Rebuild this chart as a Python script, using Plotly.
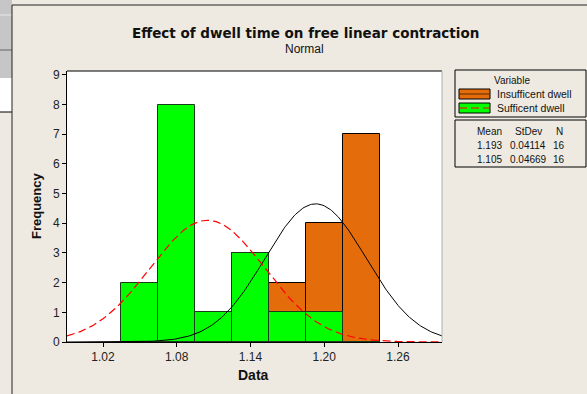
import numpy as np
import plotly.graph_objects as go

# ---- data ----
bin_centers = [1.05, 1.08, 1.11, 1.14, 1.17, 1.20, 1.23]
insufficient_counts = [0, 0, 0, 3, 2, 4, 7]
sufficient_counts = [2, 8, 1, 3, 1, 1, 0]
bin_width = 0.03
insufficient_mean, insufficient_sd, insufficient_n = 1.193, 0.04114, 16
sufficient_mean, sufficient_sd, sufficient_n = 1.105, 0.04669, 16
x_ticks = [1.02, 1.08, 1.14, 1.20, 1.26]
y_ticks = list(range(10))

W, H = 587, 394
L, R, T, B = 67, 442, 71, 342
BG = "#EEEAE1"
ORANGE = "#E46C0A"
GREEN = "#00FF00"
FONT = "Liberation Sans"


def px(x):
    return (x - L) / (R - L)


def py(y):
    return (B - y) / (B - T)


xr = [0.9907, 1.2958]
xs = np.linspace(xr[0], xr[1], 300)


def fit(mean, sd, n):
    return n * bin_width / (sd * np.sqrt(2 * np.pi)) * np.exp(-0.5 * ((xs - mean) / sd) ** 2)


fig = go.Figure()
fig.add_bar(x=bin_centers, y=insufficient_counts, width=bin_width,
            marker=dict(color=ORANGE, line=dict(color="black", width=1)),
            showlegend=False)
fig.add_bar(x=bin_centers, y=sufficient_counts, width=bin_width,
            marker=dict(color=GREEN, line=dict(color="#1a3a1a", width=1)),
            showlegend=False)
fig.add_scatter(x=xs, y=fit(insufficient_mean, insufficient_sd, insufficient_n),
                mode="lines", line=dict(color="black", width=1), showlegend=False)
fig.add_scatter(x=xs, y=fit(sufficient_mean, sufficient_sd, sufficient_n),
                mode="lines", line=dict(color="red", width=1.2, dash="8px,4px"),
                showlegend=False)

shapes = []
# plot frame top & right
shapes.append(dict(type="line", xref="paper", yref="paper", x0=0, x1=1, y0=1, y1=1,
                   line=dict(color="black", width=1)))
shapes.append(dict(type="line", xref="paper", yref="paper", x0=1, x1=1, y0=0, y1=1,
                   line=dict(color="#b0b0b0", width=1)))
# left stray window strip
shapes.append(dict(type="rect", xref="paper", yref="paper", x0=px(0), x1=px(12),
                   y0=py(78), y1=py(-2), fillcolor="#C6C6C6", line=dict(width=0), layer="below"))
shapes.append(dict(type="rect", xref="paper", yref="paper", x0=px(0), x1=px(12),
                   y0=py(112), y1=py(78), fillcolor="white", line=dict(width=0), layer="below"))
shapes.append(dict(type="line", xref="paper", yref="paper", x0=px(0), x1=px(12),
                   y0=py(112), y1=py(112), line=dict(color="black", width=1)))
shapes.append(dict(type="line", xref="paper", yref="paper", x0=px(0), x1=px(12),
                   y0=py(15), y1=py(15), line=dict(color="#e8e8e8", width=1)))
shapes.append(dict(type="line", xref="paper", yref="paper", x0=px(0), x1=px(12),
                   y0=py(50), y1=py(50), line=dict(color="#666", width=1)))
shapes.append(dict(type="line", xref="paper", yref="paper", x0=px(12), x1=px(12),
                   y0=py(400), y1=py(5), line=dict(color="#222", width=1)))
shapes.append(dict(type="line", xref="paper", yref="paper", x0=px(12), x1=px(600),
                   y0=py(5), y1=py(5), line=dict(color="#222", width=1)))
# legend boxes
shapes.append(dict(type="rect", xref="paper", yref="paper", x0=px(455), x1=px(586),
                   y0=py(117), y1=py(70), line=dict(color="black", width=1)))
shapes.append(dict(type="rect", xref="paper", yref="paper", x0=px(455), x1=px(586),
                   y0=py(167), y1=py(120), line=dict(color="black", width=1)))
# swatches
shapes.append(dict(type="rect", xref="paper", yref="paper", x0=px(459), x1=px(490),
                   y0=py(99), y1=py(89), fillcolor=ORANGE, line=dict(color="black", width=1)))
shapes.append(dict(type="line", xref="paper", yref="paper", x0=px(459), x1=px(490),
                   y0=py(94), y1=py(94), line=dict(color="#5a2a00", width=1)))
shapes.append(dict(type="rect", xref="paper", yref="paper", x0=px(459), x1=px(490),
                   y0=py(113), y1=py(103), fillcolor=GREEN, line=dict(color="black", width=1)))
shapes.append(dict(type="line", xref="paper", yref="paper", x0=px(459), x1=px(490),
                   y0=py(108), y1=py(108), line=dict(color="red", width=1.2, dash="8px,4px")))

ann = []


def text(x, y, s, size=11, bold=False, xanchor="center", angle=0, color="#111", family=FONT):
    ann.append(dict(xref="paper", yref="paper", x=px(x), y=py(y), text=f"<b>{s}</b>" if bold else s,
                    showarrow=False, xanchor=xanchor, yanchor="middle", textangle=angle,
                    font=dict(family=family, size=size, color=color)))


text(305, 33, "Effect of dwell time on free linear contraction", size=13.5, bold=True,
     family="DejaVu Sans")
text(304, 49, "Normal", size=12)
text(253, 375, "Data", size=14, bold=True)
text(36, 206, "Frequency", size=13, bold=True, angle=-90)
text(512, 80, "Variable", size=10)
text(495, 94, "Insufficent dwell", size=10.5, xanchor="left")
text(495, 108, "Sufficent dwell", size=10.5, xanchor="left")
text(489, 131, "Mean", size=10)
text(528, 131, "StDev", size=10)
text(559, 131, "N", size=10)
text(489, 145, f"{insufficient_mean:.3f}", size=10)
text(528, 145, f"{insufficient_sd:.5f}", size=10)
text(559, 145, f"{insufficient_n}", size=10)
text(489, 159, f"{sufficient_mean:.3f}", size=10)
text(528, 159, f"{sufficient_sd:.5f}", size=10)
text(559, 159, f"{sufficient_n}", size=10)

fig.update_layout(
    width=W, height=H, autosize=False,
    margin=dict(l=L, r=W - R, t=T, b=H - B, pad=0),
    paper_bgcolor=BG, plot_bgcolor="white",
    barmode="overlay", bargap=0,
    shapes=shapes, annotations=ann,
    font=dict(family=FONT, size=12, color="#222"),
    xaxis=dict(range=xr, tickvals=x_ticks, ticktext=[f"{v:.2f}" for v in x_ticks],
               showgrid=False, zeroline=False, showline=True, linecolor="black", linewidth=1,
               ticks="outside", ticklen=4, tickcolor="black",
               tickfont=dict(family=FONT, size=12, color="#222")),
    yaxis=dict(range=[0, 9.13], tickvals=y_ticks, showgrid=False, zeroline=False,
               showline=True, linecolor="black", linewidth=1,
               ticks="outside", ticklen=4, tickcolor="black",
               tickfont=dict(family=FONT, size=12, color="#222")),
)
fig.update_traces(selector=dict(type="bar"), opacity=1)
fig.write_html("out.html", config={"displayModeBar": False},
               post_script="document.body.style.margin='0';document.body.style.overflow='hidden';")
